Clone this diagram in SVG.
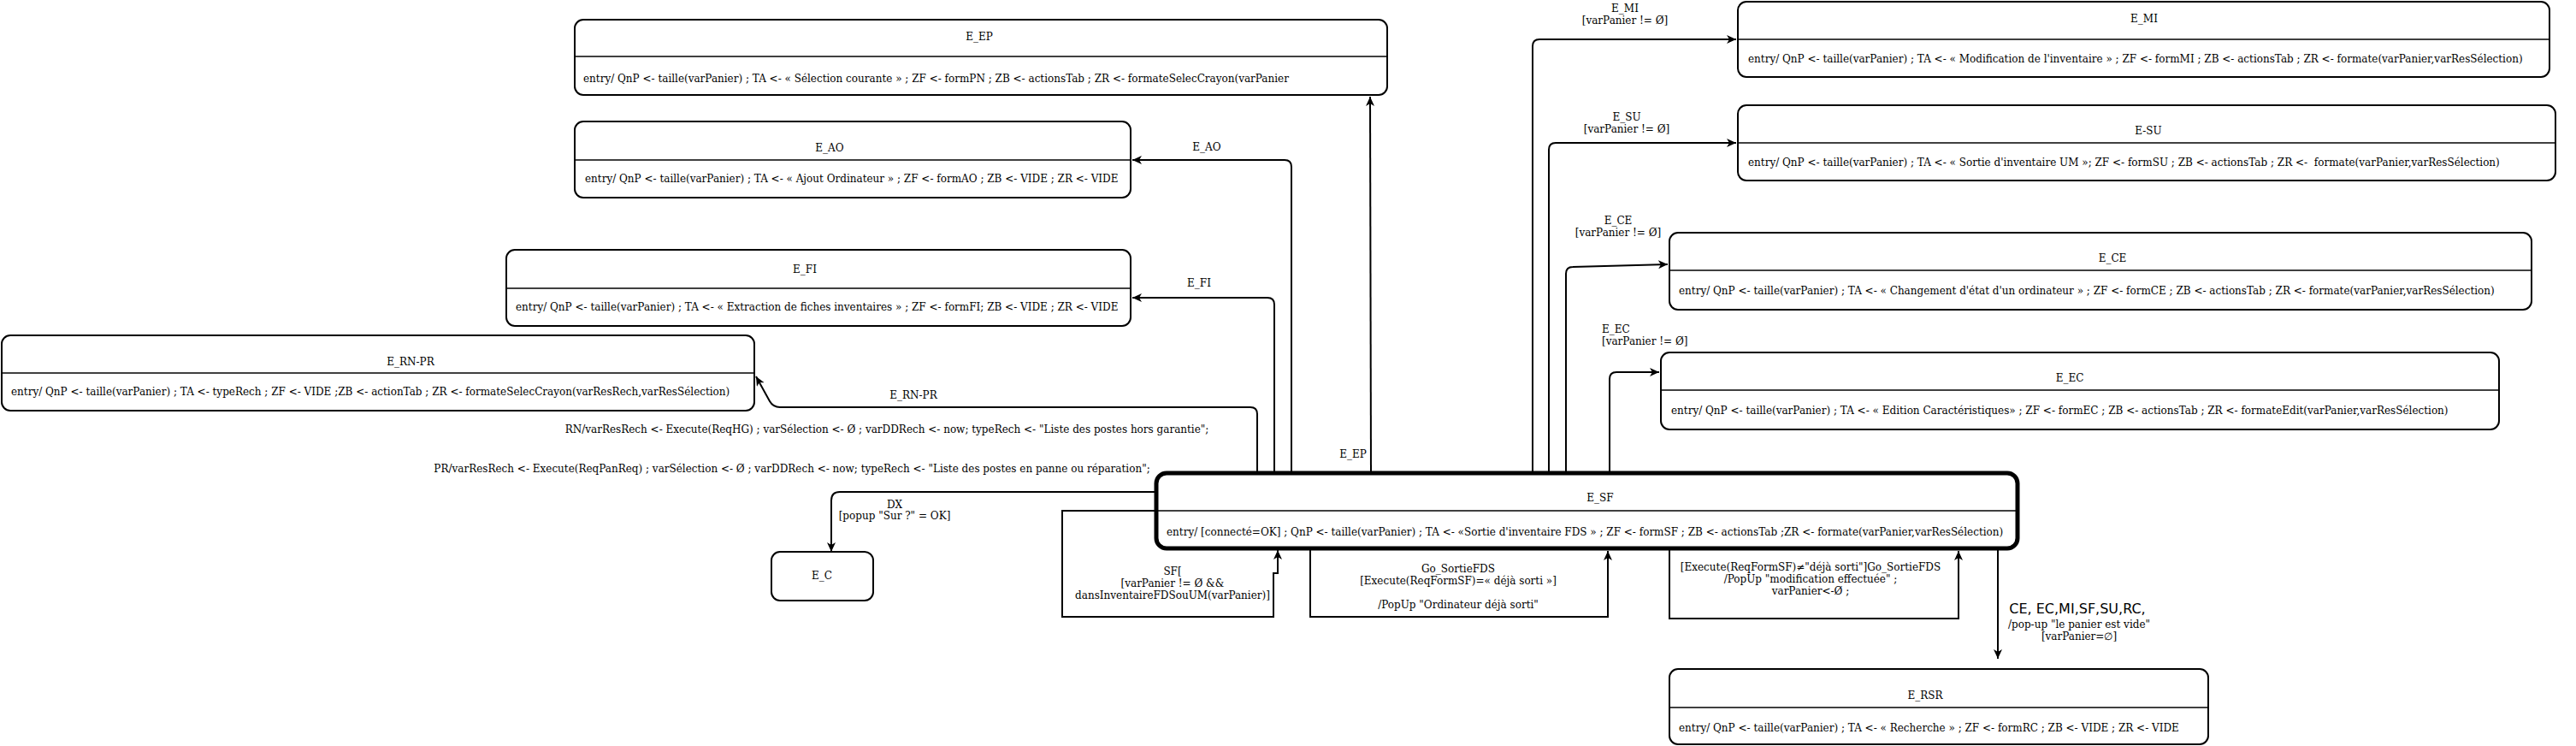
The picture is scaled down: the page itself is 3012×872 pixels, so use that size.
<svg xmlns="http://www.w3.org/2000/svg" width="3012" height="872" viewBox="0 0 3012 872">
<defs>
<marker id="arr" markerUnits="userSpaceOnUse" markerWidth="12" markerHeight="10" refX="11" refY="5" orient="auto">
<path d="M0,0 L11,5 L0,10 L3,5 Z" fill="#000"/>
</marker>
<style>
text{font-family:"DejaVu Serif","Liberation Serif",serif;font-size:12px;fill:#000}
.m{text-anchor:middle}
.sans{font-family:"DejaVu Sans","Liberation Sans",sans-serif;font-size:16px}
.box{fill:#fff;stroke:#000;stroke-width:2}
.bold{stroke-width:5}
.sep{stroke:#000;stroke-width:1.5}
.conn path{fill:none;stroke:#000;stroke-width:2;marker-end:url(#arr)}
</style>
</defs>
<rect width="3012" height="872" fill="#fff"/>

<g class="conn" id="connectors">
<path d="M1603,553 L1602,113"/>
<path d="M1510,553 V195 Q1510,187 1502,187 H1324"/>
<path d="M1490,553 V356 Q1490,348 1482,348 H1324"/>
<path d="M1470,553 V484 Q1470,476 1462,476 H912 Q904,476 900,469 L884,440"/>
<path d="M1352,575 H982 Q972,575 972,585 V645"/>
<path d="M1792,553 V54 Q1792,46 1800,46 H2030"/>
<path d="M1811,553 V175 Q1811,167 1819,167 H2030"/>
<path d="M1831,553 V320 Q1831,312 1839,312 L1950,309"/>
<path d="M1882,553 V443 Q1882,435 1890,435 H1940"/>
<path d="M1352,597 H1242 V721 H1489 V670 H1494 V643"/>
<path d="M1532,642 V721 H1880 V644"/>
<path d="M1952,642 V723 H2290 V644"/>
<path d="M2336,642 V770"/>
</g>

<g id="E_EP">
<rect class="box" x="672" y="23" width="950" height="88" rx="10"/>
<line class="sep" x1="672" y1="66" x2="1622" y2="66"/>
<text class="m" x="1145" y="47">E_EP</text>
<text x="682" y="96">entry/ QnP &lt;- taille(varPanier) ; TA &lt;- « Sélection courante » ; ZF &lt;- formPN ; ZB &lt;- actionsTab ; ZR &lt;- formateSelecCrayon(varPanier</text>
</g>

<g id="E_AO">
<rect class="box" x="672" y="142" width="650" height="89" rx="10"/>
<line class="sep" x1="672" y1="187" x2="1322" y2="187"/>
<text class="m" x="970" y="177">E_AO</text>
<text x="684" y="213">entry/ QnP &lt;- taille(varPanier) ; TA &lt;- « Ajout Ordinateur » ; ZF &lt;- formAO ; ZB &lt;- VIDE ; ZR &lt;- VIDE</text>
</g>

<g id="E_FI">
<rect class="box" x="592" y="292" width="730" height="89" rx="10"/>
<line class="sep" x1="592" y1="337" x2="1322" y2="337"/>
<text class="m" x="941" y="319">E_FI</text>
<text x="603" y="363">entry/ QnP &lt;- taille(varPanier) ; TA &lt;- « Extraction de fiches inventaires » ; ZF &lt;- formFI; ZB &lt;- VIDE ; ZR &lt;- VIDE</text>
</g>

<g id="E_RN-PR">
<rect class="box" x="2" y="392" width="880" height="88" rx="10"/>
<line class="sep" x1="2" y1="436" x2="882" y2="436"/>
<text class="m" x="480" y="427">E_RN-PR</text>
<text x="13" y="462">entry/ QnP &lt;- taille(varPanier) ; TA &lt;- typeRech ; ZF &lt;- VIDE ;ZB &lt;- actionTab ; ZR &lt;- formateSelecCrayon(varResRech,varResSélection)</text>
</g>

<g id="E_C">
<rect class="box" x="902" y="645" width="119" height="57" rx="10"/>
<text class="m" x="961" y="677">E_C</text>
</g>

<g id="E_SF">
<rect class="box bold" x="1352" y="553" width="1007" height="88" rx="12"/>
<line class="sep" x1="1352" y1="597" x2="2359" y2="597"/>
<text class="m" x="1871" y="586">E_SF</text>
<text x="1364" y="626">entry/ [connecté=OK] ; QnP &lt;- taille(varPanier) ; TA &lt;- «Sortie d'inventaire FDS » ; ZF &lt;- formSF ; ZB &lt;- actionsTab ;ZR &lt;- formate(varPanier,varResSélection)</text>
</g>

<g id="E_MI">
<rect class="box" x="2032" y="2" width="949" height="88" rx="10"/>
<line class="sep" x1="2032" y1="46" x2="2981" y2="46"/>
<text class="m" x="2507" y="26">E_MI</text>
<text x="2044" y="73">entry/ QnP &lt;- taille(varPanier) ; TA &lt;- « Modification de l'inventaire » ; ZF &lt;- formMI ; ZB &lt;- actionsTab ; ZR &lt;- formate(varPanier,varResSélection)</text>
</g>

<g id="E_SU">
<rect class="box" x="2032" y="123" width="956" height="88" rx="10"/>
<line class="sep" x1="2032" y1="167" x2="2988" y2="167"/>
<text class="m" x="2512" y="157">E-SU</text>
<text x="2044" y="194" xml:space="preserve">entry/ QnP &lt;- taille(varPanier) ; TA &lt;- « Sortie d'inventaire UM »; ZF &lt;- formSU ; ZB &lt;- actionsTab ; ZR &lt;-  formate(varPanier,varResSélection)</text>
</g>

<g id="E_CE">
<rect class="box" x="1952" y="272" width="1008" height="90" rx="10"/>
<line class="sep" x1="1952" y1="316" x2="2960" y2="316"/>
<text class="m" x="2470" y="306">E_CE</text>
<text x="1963" y="344">entry/ QnP &lt;- taille(varPanier) ; TA &lt;- « Changement d'état d'un ordinateur » ; ZF &lt;- formCE ; ZB &lt;- actionsTab ; ZR &lt;- formate(varPanier,varResSélection)</text>
</g>

<g id="E_EC">
<rect class="box" x="1942" y="412" width="980" height="90" rx="10"/>
<line class="sep" x1="1942" y1="456" x2="2922" y2="456"/>
<text class="m" x="2420" y="446">E_EC</text>
<text x="1954" y="484">entry/ QnP &lt;- taille(varPanier) ; TA &lt;- « Edition Caractéristiques» ; ZF &lt;- formEC ; ZB &lt;- actionsTab ; ZR &lt;- formateEdit(varPanier,varResSélection)</text>
</g>

<g id="E_RSR">
<rect class="box" x="1952" y="782" width="630" height="88" rx="10"/>
<line class="sep" x1="1952" y1="827" x2="2582" y2="827"/>
<text class="m" x="2251" y="817">E_RSR</text>
<text x="1963" y="855">entry/ QnP &lt;- taille(varPanier) ; TA &lt;- « Recherche » ; ZF &lt;- formRC ; ZB &lt;- VIDE ; ZR &lt;- VIDE</text>
</g>

<g id="labels">
<text class="m" x="1582" y="535">E_EP</text>
<text class="m" x="1411" y="176">E_AO</text>
<text class="m" x="1402" y="335">E_FI</text>
<text class="m" x="1068" y="466">E_RN-PR</text>
<text class="m" x="1037" y="506">RN/varResRech &lt;- Execute(ReqHG) ; varSélection &lt;- Ø ; varDDRech &lt;- now; typeRech &lt;- "Liste des postes hors garantie";</text>
<text class="m" x="926" y="552">PR/varResRech &lt;- Execute(ReqPanReq) ; varSélection &lt;- Ø ; varDDRech &lt;- now; typeRech &lt;- "Liste des postes en panne ou réparation";</text>
<text class="m" x="1046" y="594">DX</text>
<text class="m" x="1046" y="607">[popup "Sur ?" = OK]</text>
<text class="m" x="1900" y="14">E_MI</text>
<text class="m" x="1900" y="28">[varPanier != Ø]</text>
<text class="m" x="1902" y="141">E_SU</text>
<text class="m" x="1902" y="155">[varPanier != Ø]</text>
<text class="m" x="1892" y="262">E_CE</text>
<text class="m" x="1892" y="276">[varPanier != Ø]</text>
<text x="1873" y="389">E_EC</text>
<text x="1873" y="403">[varPanier != Ø]</text>
<text class="m" x="1371" y="672">SF[</text>
<text class="m" x="1371" y="686">[varPanier != Ø &amp;&amp;</text>
<text class="m" x="1371" y="700">dansInventaireFDSouUM(varPanier)]</text>
<text class="m" x="1705" y="669">Go_SortieFDS</text>
<text class="m" x="1705" y="683">[Execute(ReqFormSF)=« déjà sorti »]</text>
<text class="m" x="1705" y="711">/PopUp "Ordinateur déjà sorti"</text>
<text class="m" x="2117" y="667">[Execute(ReqFormSF)≠"déjà sorti"]Go_SortieFDS</text>
<text class="m" x="2117" y="681">/PopUp "modification effectuée" ;</text>
<text class="m" x="2117" y="695">varPanier&lt;-Ø ;</text>
<text class="m sans" x="2429" y="717">CE, EC,MI,SF,SU,RC,</text>
<text class="m" x="2431" y="734">/pop-up "le panier est vide"</text>
<text class="m" x="2431" y="748">[varPanier=∅]</text>
</g>
</svg>
